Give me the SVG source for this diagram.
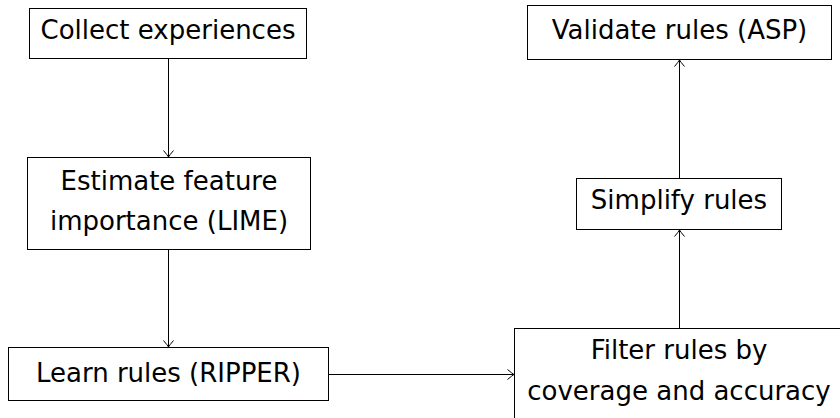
<svg xmlns="http://www.w3.org/2000/svg" width="840" height="418" viewBox="0 0 840 418">
<style>
.box{fill:#fff;stroke:#000;stroke-width:1}
.lbl{font-family:"DejaVu Sans","Liberation Sans",sans-serif;font-size:26px;fill:#000;text-anchor:middle}
.edge{fill:none;stroke:#000;stroke-width:1}
</style>
<defs>
<marker id="arr" viewBox="-8 -6 10 12" refX="0" refY="0" markerWidth="10" markerHeight="12" markerUnits="userSpaceOnUse" orient="auto">
<path d="M-6.5,-5 Q-2,-1.2 0,0 Q-2,1.2 -6.5,5" fill="none" stroke="#000" stroke-width="1"/>
</marker>
</defs>
<rect width="840" height="418" fill="#fff"/>
<g id="connectors">
<line class="edge" x1="168.5" y1="58.5" x2="168.5" y2="157" marker-end="url(#arr)"/>
<line class="edge" x1="168.5" y1="250" x2="168.5" y2="347" marker-end="url(#arr)"/>
<line class="edge" x1="329" y1="374.5" x2="514" y2="374.5" marker-end="url(#arr)"/>
<line class="edge" x1="679.5" y1="328.5" x2="679.5" y2="230" marker-end="url(#arr)"/>
<line class="edge" x1="679.5" y1="178.5" x2="679.5" y2="60" marker-end="url(#arr)"/>
</g>
<g id="collect">
<rect class="box" x="29.5" y="8.5" width="277" height="50"/>
<text class="lbl" x="168" y="39">Collect experiences</text>
</g>
<g id="estimate">
<rect class="box" x="27.5" y="157.5" width="283" height="92"/>
<text class="lbl" x="169" y="190">Estimate feature</text>
<text class="lbl" x="169" y="230">importance (LIME)</text>
</g>
<g id="learn">
<rect class="box" x="8.5" y="347.5" width="320" height="53"/>
<text class="lbl" x="168.5" y="381.5">Learn rules (RIPPER)</text>
</g>
<g id="filter">
<rect class="box" x="514.5" y="328.5" width="330" height="100"/>
<text class="lbl" x="679" y="359">Filter rules by</text>
<text class="lbl" x="679" y="400">coverage and accuracy</text>
</g>
<g id="simplify">
<rect class="box" x="576.5" y="178.5" width="205" height="51"/>
<text class="lbl" x="679" y="208.5">Simplify rules</text>
</g>
<g id="validate">
<rect class="box" x="527.5" y="5.5" width="304" height="54"/>
<text class="lbl" x="679.5" y="39">Validate rules (ASP)</text>
</g>
</svg>
